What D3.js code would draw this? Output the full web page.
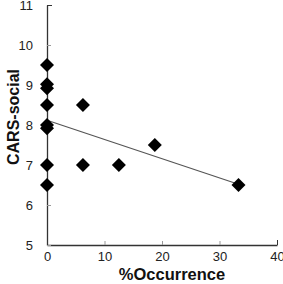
<!DOCTYPE html>
<html><head><meta charset="utf-8">
<script src="https://cdn.jsdelivr.net/npm/d3@7"></script>
<style>html,body{margin:0;padding:0;background:#fff;}svg{display:block;}</style>
</head><body>
<script>
const xValues = [0, 0, 0, 0, 0, 0, 0, 0, 6.25, 6.25, 12.5, 18.75, 33.3];
const yValues = [9.5, 9.02, 8.92, 8.5, 8.0, 7.92, 7.0, 6.5, 8.5, 7.0, 7.0, 7.5, 6.5];
const trendX = [0, 33.3];
const trendY = [8.12, 6.52];
const xTicks = [0, 10, 20, 30, 40];
const yTicks = [5, 6, 7, 8, 9, 10, 11];
const xTitle = "%Occurrence";
const yTitle = "CARS-social";

const W = 283, H = 284;
const svg = d3.select("body").append("svg").attr("width", W).attr("height", H);
const x = d3.scaleLinear().domain([0, 40]).range([47, 277]);
const y = d3.scaleLinear().domain([5, 11]).range([245, 5]);

// axes
const xAxis = svg.append("g").attr("transform", `translate(0,${y(5)})`)
  .call(d3.axisBottom(x).tickValues(xTicks).tickFormat(d3.format("d")).tickSizeInner(-4).tickSizeOuter(0).tickPadding(7));
const yAxis = svg.append("g").attr("transform", `translate(${x(0)},0)`)
  .call(d3.axisLeft(y).tickValues(yTicks).tickFormat(d3.format("d")).tickSizeInner(-4).tickSizeOuter(0).tickPadding(14));
[xAxis, yAxis].forEach(g => {
  g.select(".domain").attr("stroke", "#333").attr("stroke-width", 1.3);
  g.selectAll(".tick line").attr("stroke", "#999").attr("stroke-width", 1);
  g.selectAll(".tick text").attr("font-family", "Liberation Sans, Arial, sans-serif")
    .attr("font-size", 13).attr("fill", "#222");
});
// top tick at 11 and end tick at 40 darker
yAxis.selectAll(".tick").filter(d => d === 11).select("line").attr("stroke", "#333").attr("x2", 5);
xAxis.selectAll(".tick").filter(d => d === 40).select("line").attr("stroke", "#333").attr("y2", -5);

// trend line
svg.append("line")
  .attr("x1", x(trendX[0])).attr("y1", y(trendY[0]))
  .attr("x2", x(trendX[1])).attr("y2", y(trendY[1]))
  .attr("stroke", "#555").attr("stroke-width", 1.2);

// points
const diamond = d3.symbol().type(d3.symbolSquare).size(98);
svg.append("g").selectAll("path").data(xValues.map((v, i) => [v, yValues[i]]))
  .join("path")
  .attr("d", diamond)
  .attr("transform", d => `translate(${x(d[0])},${y(d[1])}) rotate(45)`)
  .attr("fill", "#000");

// titles
svg.append("text").attr("x", 172).attr("y", 280).attr("text-anchor", "middle")
  .attr("font-family", "Liberation Sans, Arial, sans-serif").attr("font-weight", "bold")
  .attr("font-size", 16.5).attr("fill", "#111").text(xTitle);
svg.append("text").attr("transform", "translate(13,117) rotate(-90)").attr("text-anchor", "middle")
  .attr("dy", "0.35em")
  .attr("font-family", "Liberation Sans, Arial, sans-serif").attr("font-weight", "bold")
  .attr("font-size", 16).attr("fill", "#111").text(yTitle);
</script>
</body></html>
